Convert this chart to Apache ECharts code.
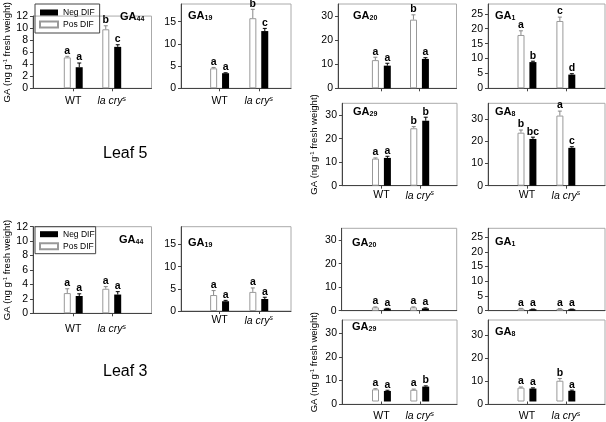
<!DOCTYPE html>
<html><head><meta charset="utf-8">
<script src="https://cdn.jsdelivr.net/npm/echarts@6/dist/echarts.min.js"></script>
<style>html,body{margin:0;padding:0;background:#fff}#c{width:606px;height:422px}</style>
</head><body><div id="c"></div>
<script>
const categories = ['WT', 'la cry'];
const legendNames = ['Neg DIF', 'Pos DIF'];

// Leaf 5
const L5_GA44_pos = [4.4, 8.4],  L5_GA44_posErr = [0.15, 0.5], L5_GA44_neg = [3.0, 5.9],  L5_GA44_negErr = [0.6, 0.3];
const L5_GA44_posSig = ['a', 'b'], L5_GA44_negSig = ['a', 'c'];
const L5_GA19_pos = [4.5, 15.8], L5_GA19_posErr = [0.2, 2.0], L5_GA19_neg = [3.4, 12.9], L5_GA19_negErr = [0.1, 0.6];
const L5_GA19_posSig = ['a', 'b'], L5_GA19_negSig = ['a', 'c'];
const L5_GA20_pos = [11.7, 28.5], L5_GA20_posErr = [1.2, 2.0], L5_GA20_neg = [9.4, 12.2], L5_GA20_negErr = [1.0, 0.5];
const L5_GA20_posSig = ['a', 'b'], L5_GA20_negSig = ['a', 'a'];
const L5_GA1_pos = [17.9, 22.6], L5_GA1_posErr = [1.4, 1.3], L5_GA1_neg = [8.8, 4.6], L5_GA1_negErr = [0.3, 0.3];
const L5_GA1_posSig = ['a', 'c'], L5_GA1_negSig = ['b', 'd'];
const L5_GA29_pos = [11.5, 24.4], L5_GA29_posErr = [0.3, 0.7], L5_GA29_neg = [11.8, 27.6], L5_GA29_negErr = [0.7, 1.5];
const L5_GA29_posSig = ['a', 'b'], L5_GA29_negSig = ['a', 'b'];
const L5_GA8_pos = [23.8, 31.5], L5_GA8_posErr = [1.2, 2.0], L5_GA8_neg = [21.0, 17.0], L5_GA8_negErr = [0.8, 0.5];
const L5_GA8_posSig = ['b', 'a'], L5_GA8_negSig = ['bc', 'c'];

// Leaf 3
const L3_GA44_pos = [2.8, 3.4], L3_GA44_posErr = [0.6, 0.3], L3_GA44_neg = [2.4, 2.6], L3_GA44_negErr = [0.3, 0.4];
const L3_GA44_posSig = ['a', 'a'], L3_GA44_negSig = ['a', 'a'];
const L3_GA19_pos = [3.6, 4.3], L3_GA19_posErr = [1.0, 0.9], L3_GA19_neg = [2.2, 2.7], L3_GA19_negErr = [0.2, 0.4];
const L3_GA19_posSig = ['a', 'a'], L3_GA19_negSig = ['a', 'a'];
const L3_GA20_pos = [1.4, 1.4], L3_GA20_posErr = [0.2, 0.2], L3_GA20_neg = [0.9, 1.0], L3_GA20_negErr = [0.1, 0.2];
const L3_GA20_posSig = ['a', 'a'], L3_GA20_negSig = ['a', 'a'];
const L3_GA1_pos = [0.7, 0.6], L3_GA1_posErr = [0.1, 0.1], L3_GA1_neg = [0.5, 0.5], L3_GA1_negErr = [0.05, 0.05];
const L3_GA1_posSig = ['a', 'a'], L3_GA1_negSig = ['a', 'a'];
const L3_GA29_pos = [5.3, 5.1], L3_GA29_posErr = [0.3, 0.3], L3_GA29_neg = [4.6, 6.5], L3_GA29_negErr = [0.3, 0.3];
const L3_GA29_posSig = ['a', 'a'], L3_GA29_negSig = ['a', 'b'];
const L3_GA8_pos = [6.2, 9.3], L3_GA8_posErr = [0.3, 1.0], L3_GA8_neg = [5.8, 4.8], L3_GA8_negErr = [0.3, 0.3];
const L3_GA8_posSig = ['a', 'b'], L3_GA8_negSig = ['a', 'a'];

const FONT = '"Liberation Sans", Arial, sans-serif';

const panels = [
  {sub:'44', pos:L5_GA44_pos, posErr:L5_GA44_posErr, neg:L5_GA44_neg, negErr:L5_GA44_negErr, posSig:L5_GA44_posSig, negSig:L5_GA44_negSig,
   frame:[33,4,118.5,84.3], data:[54,77], max:12, interval:2, title:[120,10.5], yName:20, xMargin:7},
  {sub:'19', pos:L5_GA19_pos, posErr:L5_GA19_posErr, neg:L5_GA19_neg, negErr:L5_GA19_negErr, posSig:L5_GA19_posSig, negSig:L5_GA19_negSig,
   frame:[181,4,110,84.3], data:[200,78.4], max:19, interval:5, title:[188,10], xMargin:7},
  {sub:'20', pos:L5_GA20_pos, posErr:L5_GA20_posErr, neg:L5_GA20_neg, negErr:L5_GA20_negErr, posSig:L5_GA20_posSig, negSig:L5_GA20_negSig,
   frame:[338,4,118.5,84.3], data:[362.3,76.2], max:35, interval:10, title:[353,10]},
  {sub:'1', pos:L5_GA1_pos, posErr:L5_GA1_posErr, neg:L5_GA1_neg, negErr:L5_GA1_negErr, posSig:L5_GA1_posSig, negSig:L5_GA1_negSig,
   frame:[488,4,117,84.3], data:[507.5,77.8], max:28.3, interval:5, title:[495,9.5]},
  {sub:'29', pos:L5_GA29_pos, posErr:L5_GA29_posErr, neg:L5_GA29_neg, negErr:L5_GA29_negErr, posSig:L5_GA29_posSig, negSig:L5_GA29_negSig,
   frame:[342,103.3,115,82.4], data:[362.3,76.6], max:35, interval:10, title:[353,105.5], yName:23, xMargin:4},
  {sub:'8', pos:L5_GA8_pos, posErr:L5_GA8_posErr, neg:L5_GA8_neg, negErr:L5_GA8_negErr, posSig:L5_GA8_posSig, negSig:L5_GA8_negSig,
   frame:[488,103.3,117,82.4], data:[507.5,77.8], max:37, interval:10, title:[495,105.5], xMargin:4},
  {sub:'44', pos:L3_GA44_pos, posErr:L3_GA44_posErr, neg:L3_GA44_neg, negErr:L3_GA44_negErr, posSig:L3_GA44_posSig, negSig:L3_GA44_negSig,
   frame:[33,226.7,118.5,86.6], data:[54,77], max:12, interval:2, title:[119,234], yName:20, xMargin:10},
  {sub:'19', pos:L3_GA19_pos, posErr:L3_GA19_posErr, neg:L3_GA19_neg, negErr:L3_GA19_negErr, posSig:L3_GA19_posSig, negSig:L3_GA19_negSig,
   frame:[181,226.7,110,84.3], data:[200,78.4], max:19, interval:5, title:[188,237], xMargin:4},
  {sub:'20', pos:L3_GA20_pos, posErr:L3_GA20_posErr, neg:L3_GA20_neg, negErr:L3_GA20_negErr, posSig:L3_GA20_posSig, negSig:L3_GA20_negSig,
   frame:[341.7,228.3,115,82.4], data:[362.3,76.2], max:35, interval:10, title:[352,237]},
  {sub:'1', pos:L3_GA1_pos, posErr:L3_GA1_posErr, neg:L3_GA1_neg, negErr:L3_GA1_negErr, posSig:L3_GA1_posSig, negSig:L3_GA1_negSig,
   frame:[488,228.3,117,82.4], data:[507.5,77.8], max:28, interval:5, title:[495,235.5]},
  {sub:'29', pos:L3_GA29_pos, posErr:L3_GA29_posErr, neg:L3_GA29_neg, negErr:L3_GA29_negErr, posSig:L3_GA29_posSig, negSig:L3_GA29_negSig,
   frame:[342,320,115,84.3], data:[362.3,76.6], max:35.5, interval:10, title:[352,320.5], yName:23, xMargin:9},
  {sub:'8', pos:L3_GA8_pos, posErr:L3_GA8_posErr, neg:L3_GA8_neg, negErr:L3_GA8_negErr, posSig:L3_GA8_posSig, negSig:L3_GA8_negSig,
   frame:[488,320,117,84.3], data:[507.5,77.8], max:36.5, interval:10, title:[495,325.5], xMargin:9}
];

const BAR_W = 7, HALF_SPAN = 6;

function errRender(dx, sig, color) {
  return function (params, api) {
    const c = api.value(0), v = api.value(1), e = api.value(2);
    const p0 = api.coord([c, v]);
    const p1 = api.coord([c, v + e]);
    const x = p0[0] + dx;
    return {
      type: 'group',
      children: [
        {type:'line', shape:{x1:x, y1:p0[1], x2:x, y2:p1[1]}, style:{stroke:color, lineWidth:1}},
        {type:'line', shape:{x1:x-2, y1:p1[1], x2:x+2, y2:p1[1]}, style:{stroke:color, lineWidth:1}},
        {type:'text', x:x, y:p1[1], style:{text:sig[params.dataIndex], fill:'#000', font:'bold 10.5px ' + FONT, align:'center', verticalAlign:'bottom'}}
      ]
    };
  };
}

const grid = [], xAxis = [], yAxis = [], series = [], title = [];
const yNameText = 'GA (ng g{p|-1} fresh weight)';

panels.forEach((p, i) => {
  const f = p.frame;
  grid.push({left:f[0], top:f[1], width:f[2], height:f[3], show:true, borderColor:'#aaa', borderWidth:1, backgroundColor:'transparent'});
  grid.push({left:p.data[0], top:f[1], width:p.data[1], height:f[3]});
  xAxis.push({type:'category', gridIndex:2*i, data:[''], axisLine:{show:true, lineStyle:{color:'#444', width:1}}, axisTick:{show:false}, axisLabel:{show:false}});
  const yA = {type:'value', gridIndex:2*i, min:0, max:p.max, interval:p.interval,
    axisLine:{show:true, lineStyle:{color:'#444', width:1}},
    axisTick:{show:true, length:3, lineStyle:{color:'#444'}},
    splitLine:{show:false},
    axisLabel:{fontSize:10.5, color:'#000', margin:5, fontFamily:FONT, showMaxLabel: (p.max % p.interval === 0)}};
  if (p.yName) {
    Object.assign(yA, {name:yNameText, nameLocation:'middle', nameRotate:90, nameGap:p.yName,
      nameTextStyle:{fontSize:9.5, color:'#000', fontFamily:FONT, rich:{p:{fontSize:6, fontFamily:FONT, color:'#000', padding:[0,0,4,0]}}}});
  }
  yAxis.push(yA);
  xAxis.push({type:'category', gridIndex:2*i+1, data:categories,
    axisLine:{show:false},
    axisTick:{show:true, alignWithLabel:true, length:3, lineStyle:{color:'#444'}},
    axisLabel:{show: p.xMargin !== undefined, interval:0, hideOverlap:false, margin: p.xMargin || 6, fontSize:10.5, color:'#000', fontFamily:FONT,
      formatter: v => v === 'WT' ? v : '{i|' + v + '}{p|s}',
      rich:{i:{fontStyle:'italic', fontSize:10.5, fontFamily:FONT, color:'#000'}, p:{fontStyle:'italic', fontSize:7, fontFamily:FONT, color:'#000', padding:[0,0,5,0]}}}});
  yAxis.push({type:'value', gridIndex:2*i+1, min:0, max:p.max, show:false});
  series.push({type:'bar', name:'Pos DIF', xAxisIndex:2*i+1, yAxisIndex:2*i+1, data:p.pos, barWidth:BAR_W, barGap:'70%', silent:true,
    itemStyle:{color:'#fff', borderColor:'#999', borderWidth:1}});
  series.push({type:'bar', name:'Neg DIF', xAxisIndex:2*i+1, yAxisIndex:2*i+1, data:p.neg, barWidth:BAR_W, barGap:'70%', silent:true,
    itemStyle:{color:'#000'}});
  series.push({type:'custom', xAxisIndex:2*i+1, yAxisIndex:2*i+1, clip:false, silent:true, z:5,
    data:categories.map((c, j) => [j, p.pos[j], p.posErr[j]]), encode:{x:0, y:1},
    renderItem: errRender(-HALF_SPAN, p.posSig, '#888')});
  series.push({type:'custom', xAxisIndex:2*i+1, yAxisIndex:2*i+1, clip:false, silent:true, z:5,
    data:categories.map((c, j) => [j, p.neg[j], p.negErr[j]]), encode:{x:0, y:1},
    renderItem: errRender(HALF_SPAN, p.negSig, '#000')});
  title.push({text:'{m|GA}{s|' + p.sub + '}', left:p.title[0], top:p.title[1], padding:0,
    textStyle:{rich:{m:{fontSize:11, fontWeight:'bold', fontFamily:FONT, color:'#000'}, s:{fontSize:7, fontWeight:'bold', fontFamily:FONT, color:'#000', padding:[5,0,0,0]}}}});
});

title.push({text:'Leaf 5', left:103, top:146, padding:0, textStyle:{fontSize:16, fontWeight:'normal', fontFamily:FONT, color:'#000'}});
title.push({text:'Leaf 3', left:103, top:364, padding:0, textStyle:{fontSize:16, fontWeight:'normal', fontFamily:FONT, color:'#000'}});

const legendBase = {orient:'vertical', data:legendNames, icon:'rect', itemWidth:18, itemHeight:6, itemGap:3, selectedMode:false,
  borderColor:'#444', borderWidth:1, textStyle:{fontSize:8.5, color:'#000', fontFamily:FONT}};
const legend = [
  Object.assign({}, legendBase, {left:35, top:4, padding:[4,5,4,4]}),
  Object.assign({}, legendBase, {left:35, top:226.7, padding:[3,1,3,4]})
];

const chart = echarts.init(document.getElementById('c'), null, {renderer:'canvas'});
chart.setOption({animation:false, backgroundColor:'#fff', title, legend, grid, xAxis, yAxis, series});
</script></body></html>
